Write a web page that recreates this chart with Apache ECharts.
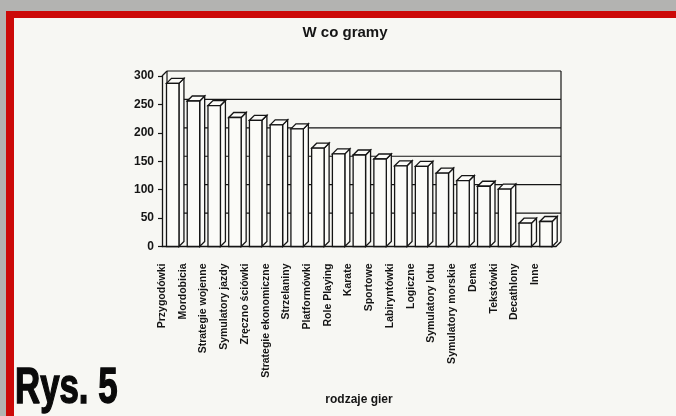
<!DOCTYPE html>
<html lang="pl">
<head>
    <meta charset="UTF-8">
    <title>W co gramy</title>
    <script src="https://cdn.jsdelivr.net/npm/echarts@6/dist/echarts.min.js"></script>
</head>
<body style="margin:0">
<div id="main" style="width: 676px;height:416px;"></div>
<script type="text/javascript">
    // dane
    var categories = ['Przygodówki', 'Mordobicia', 'Strategie wojenne', 'Symulatory jazdy', 'Zręczno ściówki',
        'Strategie ekonomiczne', 'Strzelaniny', 'Platformówki', 'Role Playing', 'Karate', 'Sportowe',
        'Labiryntówki', 'Logiczne', 'Symulatory lotu', 'Symulatory morskie', 'Dema', 'Tekstówki',
        'Decathlony', 'Inne'];
    var votes = [287, 256, 248, 227, 222, 214, 207, 173, 163, 161, 154, 142, 141, 129, 116, 106, 101, 41, 44];
    var yTicks = [0, 50, 100, 150, 200, 250, 300];

    var font = "'Liberation Sans', Arial, sans-serif";
    var ink = '#151515';
    var D = 5; // glebokosc 3D

    var myChart = echarts.init(document.getElementById('main'));

    // sciana tylna z liniami siatki
    function renderWall(params, api) {
        var cs = params.coordSys;
        var v = api.value(0);
        var y = api.coord([0, v])[1] - D;
        var children = [];
        if (v > 0) {
            children.push({type: 'line', shape: {x1: cs.x + D, y1: y, x2: cs.x + cs.width + D, y2: y},
                style: {stroke: ink, lineWidth: 1.2}});
        }
        if (params.dataIndex === 0) {
            var y0 = api.coord([0, 0])[1];
            var yTop = api.coord([0, yTicks[yTicks.length - 1]])[1];
            var xl = cs.x, xr = cs.x + cs.width;
            var segs = [
                [xl + D, yTop - D, xl + D, y0 - D],
                [xr + D, yTop - D, xr + D, y0 - D],
                [xl, yTop, xl + D, yTop - D],
                [xr, y0, xr + D, y0 - D]
            ];
            segs.forEach(function (s) {
                children.push({type: 'line', shape: {x1: s[0], y1: s[1], x2: s[2], y2: s[3]},
                    style: {stroke: ink, lineWidth: 1.2}});
            });
        }
        return {type: 'group', children: children};
    }

    // slupki 3D
    function renderBar(params, api) {
        var top = api.coord([api.value(0), api.value(1)]);
        var base = api.coord([api.value(0), 0]);
        var band = api.size([1, 0])[0];
        var l = top[0] - band / 2 + 4.5;
        var r = l + band * 0.6;
        var t = top[1], b = base[1];
        var st = {fill: '#fbfbf8', stroke: ink, lineWidth: 1.3};
        return {
            type: 'group',
            children: [
                {type: 'polygon', shape: {points: [[r, t], [r + D, t - D], [r + D, b - D], [r, b]]}, style: st},
                {type: 'polygon', shape: {points: [[l, t], [l + D, t - D], [r + D, t - D], [r, t]]}, style: st},
                {type: 'rect', shape: {x: l, y: t, width: r - l, height: b - t}, style: st}
            ]
        };
    }

    myChart.setOption({
        backgroundColor: '#b3b3b1',
        animation: false,
        textStyle: {fontFamily: font},
        graphic: [
            {type: 'rect', z: -10, shape: {x: 6, y: 11, width: 680, height: 420}, style: {fill: '#cc0a08'}},
            {type: 'rect', z: -9, shape: {x: 14, y: 18, width: 680, height: 420}, style: {fill: '#f7f7f3'}},
            {type: 'text', x: 345, y: 25, style: {text: 'W co gramy', font: 'bold 15px ' + font,
                fill: ink, textAlign: 'center'}},
            {type: 'text', x: 359, y: 394, style: {text: 'rodzaje gier', font: 'bold 12px ' + font,
                fill: ink, textAlign: 'center'}},
            {type: 'text', x: 15, y: 364, scaleX: 0.87, scaleY: 1.27,
                style: {text: 'Rys. 5', font: 'bold 40px ' + font, fill: '#0a0a0a',
                    stroke: '#0a0a0a', lineWidth: 1.2, textAlign: 'left'}}
        ],
        grid: [
            {left: 162, right: 120, top: 76, bottom: 169.5},
            {left: 151.6, right: 130.4, top: 76, bottom: 169.5}
        ],
        xAxis: [
            {
                type: 'category', gridIndex: 0, data: categories,
                axisLine: {lineStyle: {color: ink, width: 1.3}},
                axisTick: {length: 5, lineStyle: {color: ink, width: 1.2}},
                axisLabel: {show: false},
                splitLine: {show: false}
            },
            {
                type: 'category', gridIndex: 1, data: categories,
                axisLine: {show: false}, axisTick: {show: false},
                axisLabel: {rotate: 90, margin: 17, interval: 0, color: ink,
                    fontSize: 10.5, fontWeight: 'bold', fontFamily: font}
            }
        ],
        yAxis: [
            {
                type: 'value', gridIndex: 0, min: 0, max: 300, interval: 50,
                axisLine: {show: true, lineStyle: {color: ink, width: 1.3}},
                axisTick: {show: true, length: 4, lineStyle: {color: ink, width: 1.2}},
                axisLabel: {margin: 8, color: ink, fontSize: 12, fontWeight: 'bold', fontFamily: font},
                splitLine: {show: false}
            },
            {type: 'value', gridIndex: 1, show: false, min: 0, max: 300}
        ],
        series: [
            {
                type: 'custom', name: 'siatka', xAxisIndex: 0, yAxisIndex: 0, z: 1,
                renderItem: renderWall, data: yTicks.map(function (v) { return [v]; }),
                encode: {y: 0}, silent: true
            },
            {
                type: 'custom', name: 'gry', xAxisIndex: 0, yAxisIndex: 0, z: 2,
                renderItem: renderBar,
                data: votes.map(function (v, i) { return [i, v]; }),
                encode: {x: 0, y: 1}
            }
        ]
    });
</script>
</body>
</html>
